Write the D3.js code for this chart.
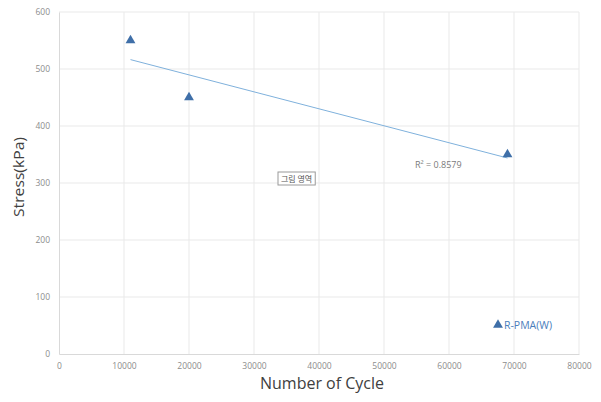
<!DOCTYPE html>
<html><head><meta charset="utf-8">
<script src="https://cdn.jsdelivr.net/npm/d3@7"></script>
<style>body{margin:0;background:#fff}</style>
</head><body>
<svg id="c" width="601" height="402"></svg>
<script>
const cycles = [11000, 20000, 69000];
const stress = [550, 450, 350];
const xTicks = [0,10000,20000,30000,40000,50000,60000,70000,80000];
const yTicks = [0,100,200,300,400,500,600];
const seriesName = "R-PMA(W)";
const r2Label = "R² = 0.8579";
const plotAreaLabel = "그림 영역";

const svg = d3.select("#c");
const x = d3.scaleLinear().domain([0,80000]).range([59,579]);
const y = d3.scaleLinear().domain([0,600]).range([354,12]);

// gridlines
svg.append("g").selectAll("line").data(xTicks.slice(1)).join("line")
  .attr("x1",d=>x(d)).attr("x2",d=>x(d)).attr("y1",y(0)).attr("y2",y(600))
  .attr("stroke","#e9e9e9").attr("stroke-width",1);
svg.append("g").selectAll("line").data(yTicks.slice(1)).join("line")
  .attr("x1",x(0)).attr("x2",x(80000)).attr("y1",d=>y(d)).attr("y2",d=>y(d))
  .attr("stroke","#e9e9e9").attr("stroke-width",1);

// axes
const xa = svg.append("g").attr("transform",`translate(0,${y(0)})`)
  .call(d3.axisBottom(x).tickValues(xTicks).tickSize(0).tickPadding(9).tickFormat(d3.format("d")));
const ya = svg.append("g").attr("transform",`translate(${x(0)},0)`)
  .call(d3.axisLeft(y).tickValues(yTicks).tickSize(0).tickPadding(9).tickFormat(d3.format("d")));
[xa,ya].forEach(a=>{
  a.select(".domain").attr("stroke","#d9d9d9");
  a.selectAll("text").attr("fill","#8c8c8c").style("font-family","Open Sans, sans-serif").style("font-size","8.5px");
});

// trendline (least squares)
const n = cycles.length;
const mx = d3.mean(cycles), my = d3.mean(stress);
let sxy=0,sxx=0;
for(let i=0;i<n;i++){sxy+=(cycles[i]-mx)*(stress[i]-my);sxx+=(cycles[i]-mx)**2;}
const slope = sxy/sxx, icpt = my - slope*mx;
const x0 = d3.min(cycles), x1 = d3.max(cycles);
svg.append("line")
  .attr("x1",x(x0)).attr("y1",y(icpt+slope*x0))
  .attr("x2",x(x1)).attr("y2",y(icpt+slope*x1))
  .attr("stroke","#7fb1dc").attr("stroke-width",1);

// points
const tri = d3.symbol().type(d3.symbolTriangle).size(42);
svg.append("g").selectAll("path").data(cycles).join("path")
  .attr("d",tri)
  .attr("transform",(d,i)=>`translate(${x(d)},${y(stress[i])})`)
  .attr("fill","#3f6fa8");

// R2 label
svg.append("text").attr("x",415).attr("y",168).text(r2Label)
  .attr("fill","#7a7a7a").style("font-family","Open Sans, sans-serif").style("font-size","9px");

// plot area label box
const g = svg.append("g");
const pt = g.append("text").attr("x",281).attr("y",182).text(plotAreaLabel)
  .attr("fill","#555").style("font-family","Noto Sans CJK KR, sans-serif").style("font-size","8px");
const bb = pt.node().getBBox();
g.insert("rect","text").attr("x",bb.x-3).attr("y",bb.y-1).attr("width",bb.width+6).attr("height",bb.height+2)
  .attr("fill","#fff").attr("stroke","#9a9a9a").attr("stroke-width",1);

// legend
svg.append("path").attr("d",tri).attr("transform","translate(498,325)").attr("fill","#3f6fa8");
svg.append("text").attr("x",504).attr("y",329).text(seriesName)
  .attr("fill","#4a7ebb").style("font-family","Open Sans, sans-serif").style("font-size","10.5px");

// axis titles
svg.append("text").attr("x",322).attr("y",389).attr("text-anchor","middle").text("Number of Cycle")
  .attr("fill","#404040").style("font-family","Open Sans, sans-serif").style("font-size","16px");
svg.append("text").attr("transform","translate(24,177) rotate(-90)").attr("text-anchor","middle").text("Stress(kPa)")
  .attr("textLength",80).attr("lengthAdjust","spacingAndGlyphs")
  .attr("fill","#404040").style("font-family","Open Sans, sans-serif").style("font-size","15px");
</script>
</body></html>
